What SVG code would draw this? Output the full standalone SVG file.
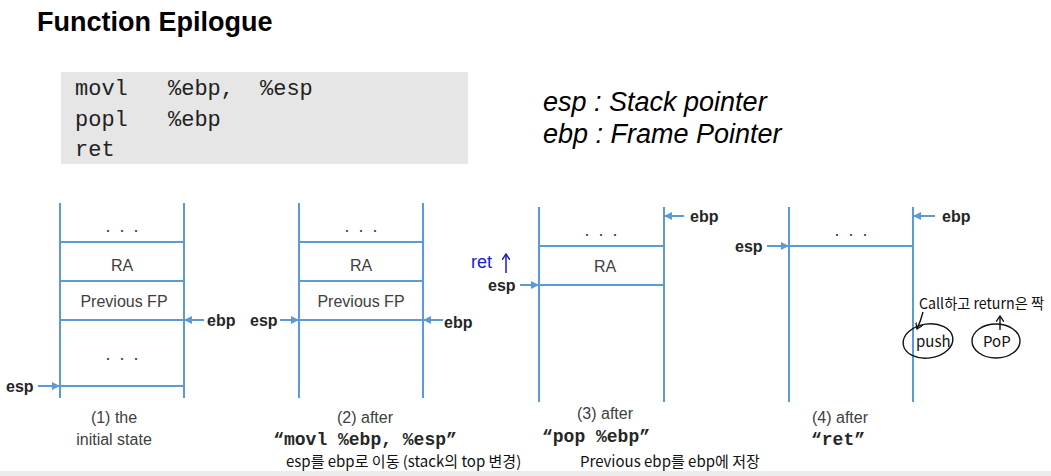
<svg xmlns="http://www.w3.org/2000/svg" width="1051" height="476" viewBox="0 0 1051 476">
<style>
.title{font-family:"Liberation Sans",Arial,sans-serif;font-weight:bold;font-size:27px;fill:#000}
.code{font-family:"Liberation Mono","Courier New",monospace;font-size:22px;fill:#222}
.legend{font-family:"Liberation Sans",Arial,sans-serif;font-style:italic;font-size:27px;fill:#000}
.stk{stroke:#5b9bd5;stroke-width:2;fill:none}
.cell{font-family:"Liberation Sans",Arial,sans-serif;font-size:16px;fill:#404040;text-anchor:middle}
.dots{font-family:"Liberation Sans",Arial,sans-serif;font-size:18px;fill:#404040;text-anchor:middle;letter-spacing:2px}
.reg{font-family:"Liberation Sans",Arial,sans-serif;font-weight:bold;font-size:16px;fill:#262626}
.cap{font-family:"Liberation Sans",Arial,sans-serif;font-size:16px;fill:#404040;text-anchor:middle}
.capc{font-family:"Liberation Mono","Courier New",monospace;font-weight:bold;font-size:18px;fill:#262626;text-anchor:middle}
.hand{font-family:"Noto Sans CJK KR","Noto Sans",sans-serif;font-size:15px;fill:#111}
.ink{stroke:#111;stroke-width:1.4;fill:none}
.arr{stroke:#5b9bd5;stroke-width:2;fill:none;marker-end:url(#ah)}
</style>
<defs>
<marker id="ah" markerWidth="8" markerHeight="8" refX="7" refY="4" orient="auto" markerUnits="userSpaceOnUse">
<path d="M0,0 L8,4 L0,8 Z" fill="#5b9bd5"/>
</marker>
<marker id="hk" markerWidth="8" markerHeight="8" refX="6" refY="4" orient="auto" markerUnits="userSpaceOnUse">
<path d="M0,0 L6,4 L0,8" fill="none" stroke="#111" stroke-width="1.3"/>
</marker>
<marker id="hb" markerWidth="8" markerHeight="8" refX="6" refY="4" orient="auto" markerUnits="userSpaceOnUse">
<path d="M0,0 L6,4 L0,8" fill="none" stroke="#1a1ad6" stroke-width="1.5"/>
</marker>
</defs>
<rect width="1051" height="476" fill="#fff"/>
<text class="title" x="37" y="31">Function Epilogue</text>

<g id="code">
<rect x="61" y="72" width="407" height="92" fill="#e6e6e6"/>
<text class="code" x="75" y="95">movl</text><text class="code" x="168" y="95">%ebp,</text><text class="code" x="260" y="95">%esp</text>
<text class="code" x="75" y="126">popl</text><text class="code" x="168" y="126">%ebp</text>
<text class="code" x="75" y="156">ret</text>
</g>

<g id="legend">
<text class="legend" x="543" y="111">esp : Stack pointer</text>
<text class="legend" x="543" y="143">ebp : Frame Pointer</text>
</g>

<g id="stack1">
<path class="stk" d="M60,203 V398 M184,203 V398 M60,242 H184 M60,281 H184 M60,320 H184 M60,386 H184"/>
<text class="dots" x="123" y="232">. . .</text>
<text class="cell" x="122" y="271">RA</text>
<text class="cell" x="124" y="307">Previous FP</text>
<text class="dots" x="123" y="360">. . .</text>
<text class="reg" x="207" y="326">ebp</text>
<text class="reg" x="6" y="392">esp</text>
<text class="cap" x="114" y="423">(1) the</text>
<text class="cap" x="114" y="445">initial state</text>
</g>

<g id="stack2">
<path class="stk" d="M299,203 V398 M423,203 V398 M299,242 H423 M299,281 H423 M299,320 H423"/>
<text class="dots" x="362" y="232">. . .</text>
<text class="cell" x="361" y="271">RA</text>
<text class="cell" x="361" y="307">Previous FP</text>
<text class="reg" x="250" y="326">esp</text>
<text class="reg" x="444" y="328">ebp</text>
<text class="cap" x="365" y="423">(2) after</text>
<text class="capc" x="365" y="445">“movl %ebp, %esp”</text>
<text class="hand" x="286" y="467">esp를  ebp로 이동 (stack의 top 변경)</text>
</g>

<g id="stack3">
<path class="stk" d="M539,207 V402 M664,207 V402 M539,246 H664 M539,285 H664"/>
<text class="dots" x="602" y="236">. . .</text>
<text class="cell" x="605" y="272">RA</text>
<text class="reg" x="690" y="222">ebp</text>
<text class="reg" x="488" y="291">esp</text>
<text x="471" y="268" font-family="'Liberation Sans',sans-serif" font-size="18" fill="#1a1ad6">ret</text>
<path d="M506,273 V254" stroke="#1a1ad6" stroke-width="1.5" fill="none" marker-end="url(#hb)"/>
<text class="cap" x="605" y="419">(3) after</text>
<text class="capc" x="596" y="442">“pop %ebp”</text>
<text class="hand" x="580" y="467">Previous ebp를 ebp에 저장</text>
</g>

<g id="stack4">
<path class="stk" d="M789,207 V402 M913,207 V402 M789,246 H913"/>
<text class="dots" x="852" y="236">. . .</text>
<text class="reg" x="942" y="222">ebp</text>
<text class="reg" x="735" y="252">esp</text>
<text class="cap" x="840" y="423">(4) after</text>
<text class="capc" x="838" y="445">“ret”</text>
<text class="hand" x="919" y="309" font-size="14" textLength="125" lengthAdjust="spacingAndGlyphs">Call하고 return은 짝</text>
<path class="ink" d="M923,312 Q921,320 917,329" marker-end="url(#hk)"/>
<path class="ink" d="M1000,330 V316" marker-end="url(#hk)"/>
<ellipse class="ink" cx="928" cy="341" rx="25" ry="17" transform="rotate(-8 928 341)"/>
<text class="hand" x="916" y="347">push</text>
<ellipse class="ink" cx="996" cy="341" rx="24" ry="17"/>
<text class="hand" x="983" y="347" font-size="16">PoP</text>
</g>

<g id="connectors">
<path class="arr" d="M204,320 H185"/>
<path class="arr" d="M38,386 H59"/>
<path class="arr" d="M280,320 H298"/>
<path class="arr" d="M443,320 H424"/>
<path class="arr" d="M684,216 H665"/>
<path class="arr" d="M520,285 H538"/>
<path class="arr" d="M935,216 H914"/>
<path class="arr" d="M767,246 H788"/>
</g>

<rect x="0" y="471" width="1051" height="5" fill="#ececec"/>
</svg>
